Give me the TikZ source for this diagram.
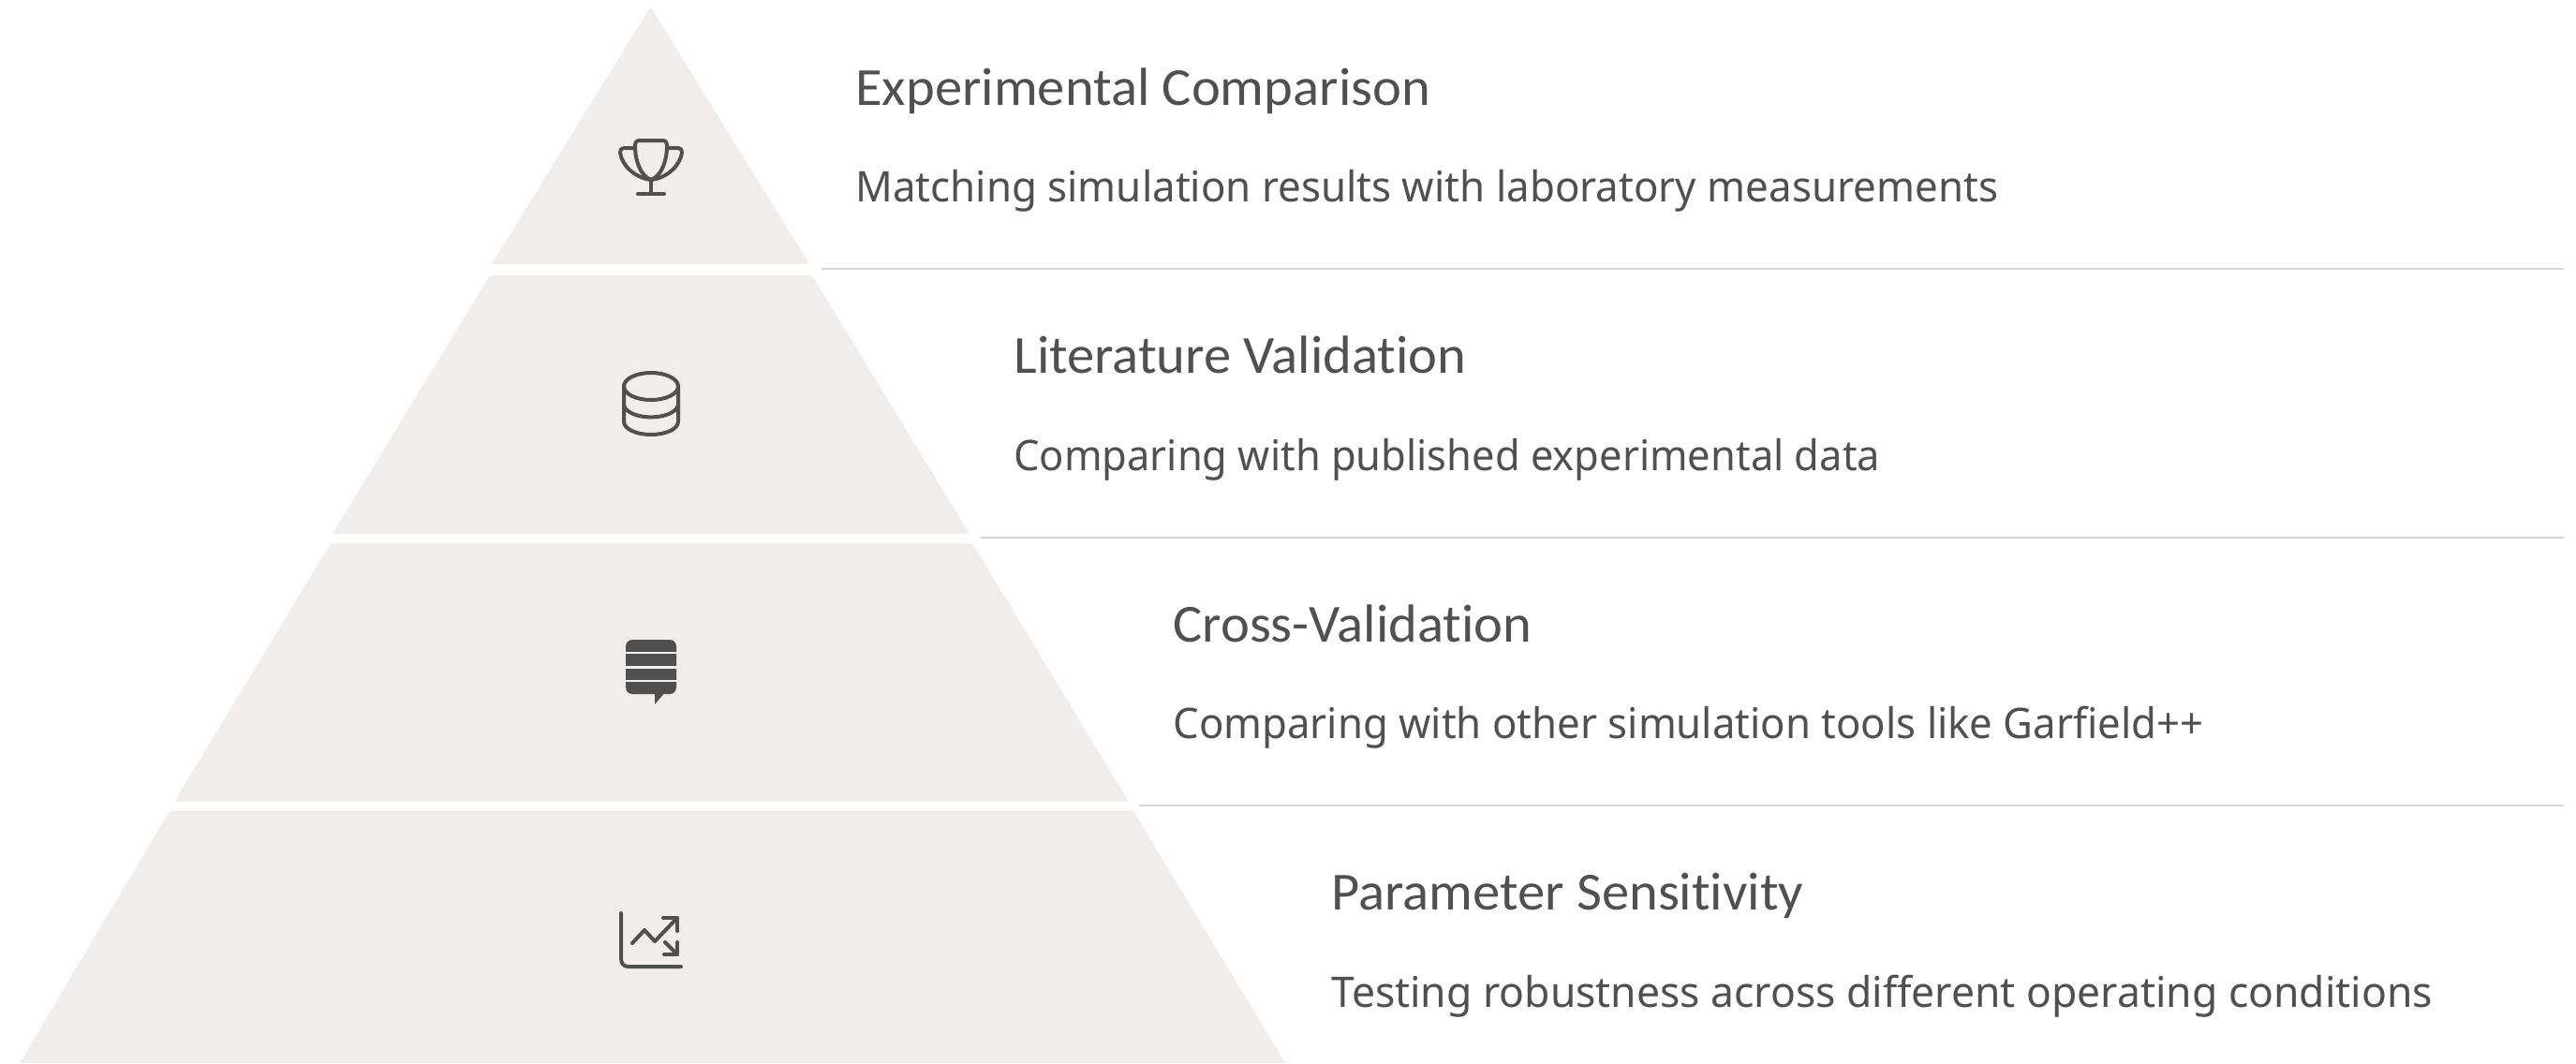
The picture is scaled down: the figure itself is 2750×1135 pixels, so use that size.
\documentclass[tikz,border=0pt]{standalone}
\usepackage{fontspec}
\setmainfont{Liberation Sans}
\newfontfamily\titlefont[Ligatures=CommonOff,FakeStretch=1.024]{Carlito}
\newfontfamily\bodyfont{Noto Sans}
\definecolor{tierfill}{HTML}{F0EDEC}
\definecolor{rulecol}{HTML}{D6D4D4}
\definecolor{inkcol}{HTML}{505050}
\tikzset{
  tier/.style={fill=tierfill,draw=none,rounded corners=1.5pt},
  sep/.style={draw=rulecol,line width=1.1pt},
  titletext/.style={anchor=base west,inner sep=0pt,text=inkcol,font=\titlefont\fontsize{28.6pt}{32pt}\selectfont},
  bodytext/.style={anchor=base west,inner sep=0pt,text=inkcol,font=\bodyfont\addfontfeature{FakeStretch=#1}\fontsize{22.5pt}{26pt}\selectfont},
  icon/.style={draw=inkcol,line width=2pt,line cap=round,line join=round,fill=none}
}
\begin{document}
\begin{tikzpicture}[x=0.5pt,y=-0.5pt]
\useasboundingbox (0,0) rectangle (2750,1135);
% pyramid tiers
\fill[tier] (694.5,7) -- (864,282) -- (525,282) -- cycle;
\fill[tier] (523,294) -- (867,294) -- (1035,570) -- (355,570) -- cycle;
\fill[tier] (353,580) -- (1038,580) -- (1205,856) -- (186,856) -- cycle;
\fill[tier,rounded corners=0pt] (181,866) -- (1210,866) -- (1372,1135) -- (21,1135) -- cycle;
% separators
\coordinate (s1a) at (877,287); \coordinate (s1b) at (2737,287);
\coordinate (s2a) at (1047,574); \coordinate (s2b) at (2737,574);
\coordinate (s3a) at (1216,860); \coordinate (s3b) at (2737,860);
\draw[sep] (s1a) -- (s1b);
\draw[sep] (s2a) -- (s2b);
\draw[sep] (s3a) -- (s3b);
% text
\node[titletext] (t1) at (913,112) {Experimental Comparison};
\node[bodytext=0.975] (b1) at (913,215) {Matching simulation results with laboratory measurements};
\node[titletext] (t2) at (1082,398) {Literature Validation};
\node[bodytext=0.966] (b2) at (1082,502) {Comparing with published experimental data};
\node[titletext] (t3) at (1252,685) {Cross-Validation};
\node[bodytext=0.972] (b3) at (1252,788) {Comparing with other simulation tools like Garfield++};
\node[titletext] (t4) at (1421,971) {Parameter Sensitivity};
\node[bodytext=0.988] (b4) at (1421,1075) {Testing robustness across different operating conditions};
% trophy
\draw[icon] (683,150) -- (707,150) .. controls (711,150) and (712,152) .. (712,156) .. controls (712,172) and (706,188) .. (695,192) .. controls (684,188) and (678,172) .. (678,156) .. controls (678,152) and (679,150) .. (683,150) -- cycle;
\draw[icon] (678,158) -- (666,158) .. controls (663,158) and (662,160) .. (662,163) .. controls (664,177) and (678,190) .. (695,192) .. controls (712,190) and (726,177) .. (728,163) .. controls (728,160) and (727,158) .. (724,158) -- (712,158);
\draw[icon] (695,192) -- (695,207);
\draw[icon] (681,207) -- (709,207);
% database
\draw[icon] (695,412.5) ellipse [x radius=29,y radius=14.5];
\draw[icon] (666,412) -- (666,450) .. controls (666,458) and (679,464) .. (695,464) .. controls (711,464) and (724,458) .. (724,450) -- (724,412);
\draw[icon] (666,433) .. controls (672,449.5) and (718,449.5) .. (724,433);
% stack
\fill[inkcol,rounded corners=3.5pt] (668,683) rectangle (722,741);
\fill[inkcol] (699,738) -- (699,752) -- (711,738) -- cycle;
\draw[tierfill,line width=1.2pt] (667,697) -- (723,697) (667,712.5) -- (723,712.5) (667,727) -- (723,727);
% chart
\draw[icon] (663,975) -- (663,1023) .. controls (663,1029) and (666,1032) .. (671,1032) -- (727,1032);
\draw[icon] (675,1007) -- (688,993) -- (699,1005) -- (723,980);
\draw[icon] (708,980) -- (723,980) -- (723,994);
\draw[icon] (710,1006) -- (723,1019);
\draw[icon] (709,1019) -- (723,1019) -- (723,1006);
\end{tikzpicture}
\end{document}
